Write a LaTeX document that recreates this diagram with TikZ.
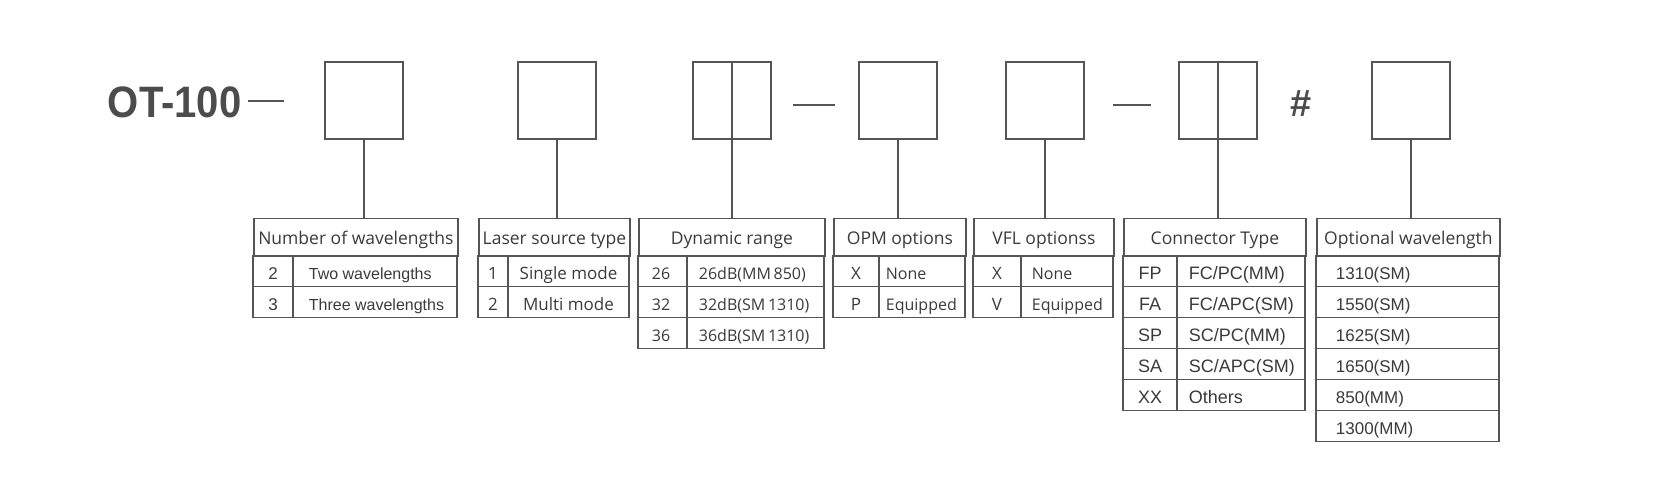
\documentclass[tikz,border=0pt]{standalone}
\usepackage{fontspec}
\setmainfont{Open Sans}
\newfontfamily\arialfont{Liberation Sans}
\definecolor{linegray}{HTML}{555555}
\definecolor{textgray}{HTML}{3A3A3A}
\begin{document}
\begin{tikzpicture}[x=1pt,y=-1pt,line width=1.8pt,color=linegray,text=textgray,
    codebox/.style={draw,minimum width=78pt,minimum height=77pt,inner sep=0pt},
    head/.style={draw,minimum height=38pt,inner sep=0pt,text height=15pt,text depth=1pt,
      font=\fontsize{17.5}{18}\selectfont},
    key/.style={inner sep=0pt,anchor=base,font=\fontsize{17}{18}\selectfont},
    val/.style={inner sep=0pt,anchor=base west,font=\fontsize{16}{18}\selectfont},
    arial/.style={font=\arialfont\fontsize{#1}{18}\selectfont}]
\useasboundingbox (0,0) rectangle (1679,482);
% code line
\node[inner sep=0pt,anchor=base west,text=black!70,font=\arialfont\bfseries\fontsize{44}{44}\selectfont]
  (title) at (107,117) {\scalebox{0.91}[1]{OT-100}};
\draw (248,101) -- (284,101);
\node[codebox] (b1) at (364,100.5) {};
\node[codebox] (b2) at (557,100.5) {};
\node[codebox] (b3) at (732,100.5) {};
\draw (b3.north) -- (b3.south);
\draw (793,105) -- (835,105);
\node[codebox] (b4) at (898,100.5) {};
\node[codebox] (b5) at (1045,100.5) {};
\draw (1113,105) -- (1151,105);
\node[codebox] (b6) at (1218,100.5) {};
\draw (b6.north) -- (b6.south);
\node[inner sep=0pt,anchor=base,text=black!70,font=\arialfont\bfseries\fontsize{38}{38}\selectfont]
  (hash) at (1301.5,116) {\#};
\node[codebox] (b7) at (1411,100.5) {};
% number of wavelengths
\node[head,minimum width=204pt,anchor=north west] (h1) at (253,217.5) {Number of wavelengths};
\foreach \k/\v [count=\r] in {2/Two wavelengths,3/Three wavelengths}
  {\draw (253,{224.5+31*\r}) rectangle (457,{255.5+31*\r});
   \draw (293,{224.5+31*\r}) -- (293,{255.5+31*\r});
   \node[key,arial=17] (k1\r) at (273,{248.5+31*\r}) {\k};
   \node[val,arial=16] (v1\r) at (308,{248.5+31*\r}) {\v};}
% laser source
\node[head,minimum width=151pt,anchor=north west] (h2) at (478,217.5) {Laser source type};
\foreach \k/\v [count=\r] in {1/Single mode,2/Multi mode}
  {\draw (478,{224.5+31*\r}) rectangle (629,{255.5+31*\r});
   \draw (508,{224.5+31*\r}) -- (508,{255.5+31*\r});
   \node[key] (k2\r) at (493,{248.5+31*\r}) {\k};
   \node[key] (v2\r) at (568.5,{248.5+31*\r}) {\v};}
% dynamic range
\node[head,minimum width=186pt,anchor=north west] (h3) at (638,217.5) {Dynamic range};
\foreach \k/\v [count=\r] in {26/26dB(MM\,850),32/32dB(SM\,1310),36/36dB(SM\,1310)}
  {\draw (638,{224.5+31*\r}) rectangle (824,{255.5+31*\r});
   \draw (687,{224.5+31*\r}) -- (687,{255.5+31*\r});
   \node[key,font=\fontsize{16}{18}\selectfont] (k3\r) at (661,{248.5+31*\r}) {\k};
   \node[val] (v3\r) at (698,{248.5+31*\r}) {\v};}
% opm
\node[head,minimum width=132pt,anchor=north west] (h4) at (833,217.5) {OPM options};
\foreach \k/\v [count=\r] in {X/None,P/Equipped}
  {\draw (833,{224.5+31*\r}) rectangle (965,{255.5+31*\r});
   \draw (879,{224.5+31*\r}) -- (879,{255.5+31*\r});
   \node[key] (k4\r) at (856,{248.5+31*\r}) {\k};
   \node[val] (v4\r) at (885,{248.5+31*\r}) {\v};}
% vfl
\node[head,minimum width=140pt,anchor=north west] (h5) at (973,217.5) {VFL optionss};
\foreach \k/\v [count=\r] in {X/None,V/Equipped}
  {\draw (973,{224.5+31*\r}) rectangle (1113,{255.5+31*\r});
   \draw (1021,{224.5+31*\r}) -- (1021,{255.5+31*\r});
   \node[key] (k5\r) at (997,{248.5+31*\r}) {\k};
   \node[val] (v5\r) at (1031,{248.5+31*\r}) {\v};}
% connector
\node[head,minimum width=182pt,anchor=north west] (h6) at (1123,217.5) {Connector Type};
\foreach \k/\v [count=\r] in {FP/{FC/PC(MM)},FA/{FC/APC(SM)},SP/{SC/PC(MM)},SA/{SC/APC(SM)},XX/Others}
  {\draw (1123,{224.5+31*\r}) rectangle (1305,{255.5+31*\r});
   \draw (1177,{224.5+31*\r}) -- (1177,{255.5+31*\r});
   \node[key,arial=18] (k6\r) at (1150,{248.5+31*\r}) {\k};
   \node[val,arial=18] (v6\r) at (1188,{248.5+31*\r}) {\v};}
% wavelength
\node[head,minimum width=183pt,anchor=north west] (h7) at (1316,217.5) {Optional wavelength};
\foreach \v [count=\r] in {1310(SM),1550(SM),1625(SM),1650(SM),850(MM),1300(MM)}
  {\draw (1316,{224.5+31*\r}) rectangle (1499,{255.5+31*\r});
   \node[val,arial=17] (v7\r) at (1335,{248.5+31*\r}) {\v};}
% links
\foreach \i in {1,...,7}
  \draw (b\i.south) -- (b\i.south |- h\i.north);
\end{tikzpicture}
\end{document}
